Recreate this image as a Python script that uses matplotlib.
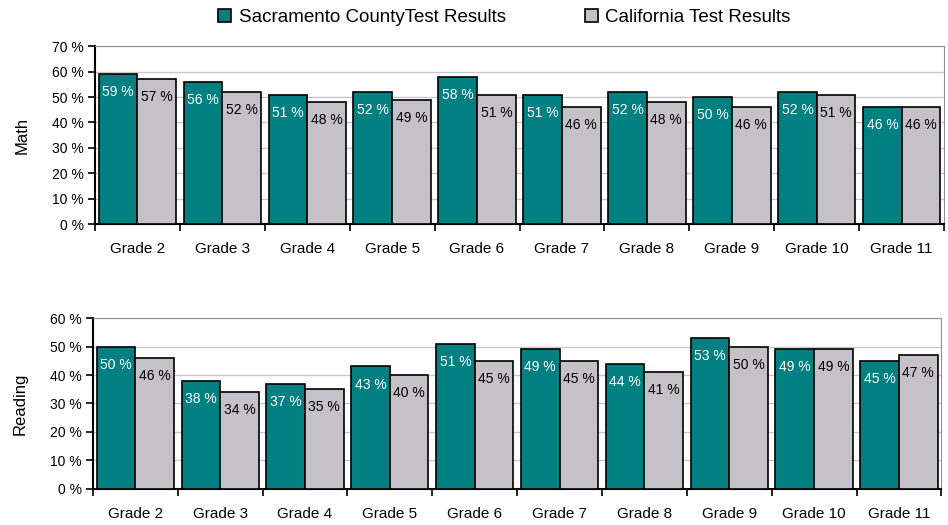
import numpy as np
import matplotlib.pyplot as plt
from matplotlib.patches import Patch

plt.rcParams['font.family'] = ['Liberation Sans', 'DejaVu Sans']

grades = ['Grade 2', 'Grade 3', 'Grade 4', 'Grade 5', 'Grade 6',
          'Grade 7', 'Grade 8', 'Grade 9', 'Grade 10', 'Grade 11']
math_county = [59, 56, 51, 52, 58, 51, 52, 50, 52, 46]
math_state = [57, 52, 48, 49, 51, 46, 48, 46, 51, 46]
reading_county = [50, 38, 37, 43, 51, 49, 44, 53, 49, 45]
reading_state = [46, 34, 35, 40, 45, 45, 41, 50, 49, 47]

TEAL = '#008080'
GRAY = '#C4C2C8'

fig = plt.figure(figsize=(9.48, 5.25), dpi=100)
ax_math = fig.add_axes([0.100, 0.573, 0.896, 0.339])
ax_read = fig.add_axes([0.098, 0.069, 0.895, 0.325])


def draw_panel(ax, county, state, ymax, ylabel):
    x = np.arange(len(grades))
    w = 0.455
    ax.bar(x - w / 2, county, w, color=TEAL, edgecolor='black', linewidth=1.2, zorder=3)
    ax.bar(x + w / 2, state, w, color=GRAY, edgecolor='black', linewidth=1.2, zorder=3)
    for xi, v in zip(x, county):
        ax.annotate(f'{v} %', (xi - w / 2, v), xytext=(0, -13), textcoords='offset points',
                    ha='center', va='center', color='white', fontsize=10, zorder=4)
    for xi, v in zip(x, state):
        ax.annotate(f'{v} %', (xi + w / 2, v), xytext=(0, -13), textcoords='offset points',
                    ha='center', va='center', color='black', fontsize=10, zorder=4)

    ax.set_xlim(-0.5, len(grades) - 0.5)
    ax.set_ylim(0, ymax)
    ax.set_yticks(range(0, ymax + 1, 10))
    ax.set_yticklabels([f'{t} %' for t in range(0, ymax + 1, 10)], fontsize=10)
    ax.set_xticks(x)
    ax.set_xticklabels(grades, fontsize=11)
    ax.set_xticks(np.arange(-0.5, len(grades)), minor=True)
    ax.tick_params(axis='x', which='major', length=0, pad=13)
    ax.tick_params(axis='x', which='minor', length=5, width=1.2, direction='out')
    ax.tick_params(axis='y', length=5, width=1.2, direction='out', pad=3)
    ax.grid(axis='y', color='#C8C8C8', linewidth=1, zorder=0)
    ax.set_axisbelow(True)
    for side in ('top', 'right'):
        ax.spines[side].set_color('#909090')
    for side in ('left', 'bottom'):
        ax.spines[side].set_color('black')
        ax.spines[side].set_linewidth(1.5)
    ax.set_ylabel(ylabel, fontsize=12, labelpad=16)


draw_panel(ax_math, math_county, math_state, 70, 'Math')
draw_panel(ax_read, reading_county, reading_state, 60, 'Reading')

handles = [Patch(facecolor=TEAL, edgecolor='black', linewidth=1.2),
           Patch(facecolor=GRAY, edgecolor='black', linewidth=1.2)]
fig.legend(handles, ['Sacramento CountyTest Results', 'California Test Results'],
           loc='center', bbox_to_anchor=(0.532, 0.967), ncol=2, frameon=False,
           fontsize=13.5, handlelength=0.7, handleheight=0.7, handletextpad=0.4,
           columnspacing=4.2)

fig.savefig('out.png', dpi=100)
